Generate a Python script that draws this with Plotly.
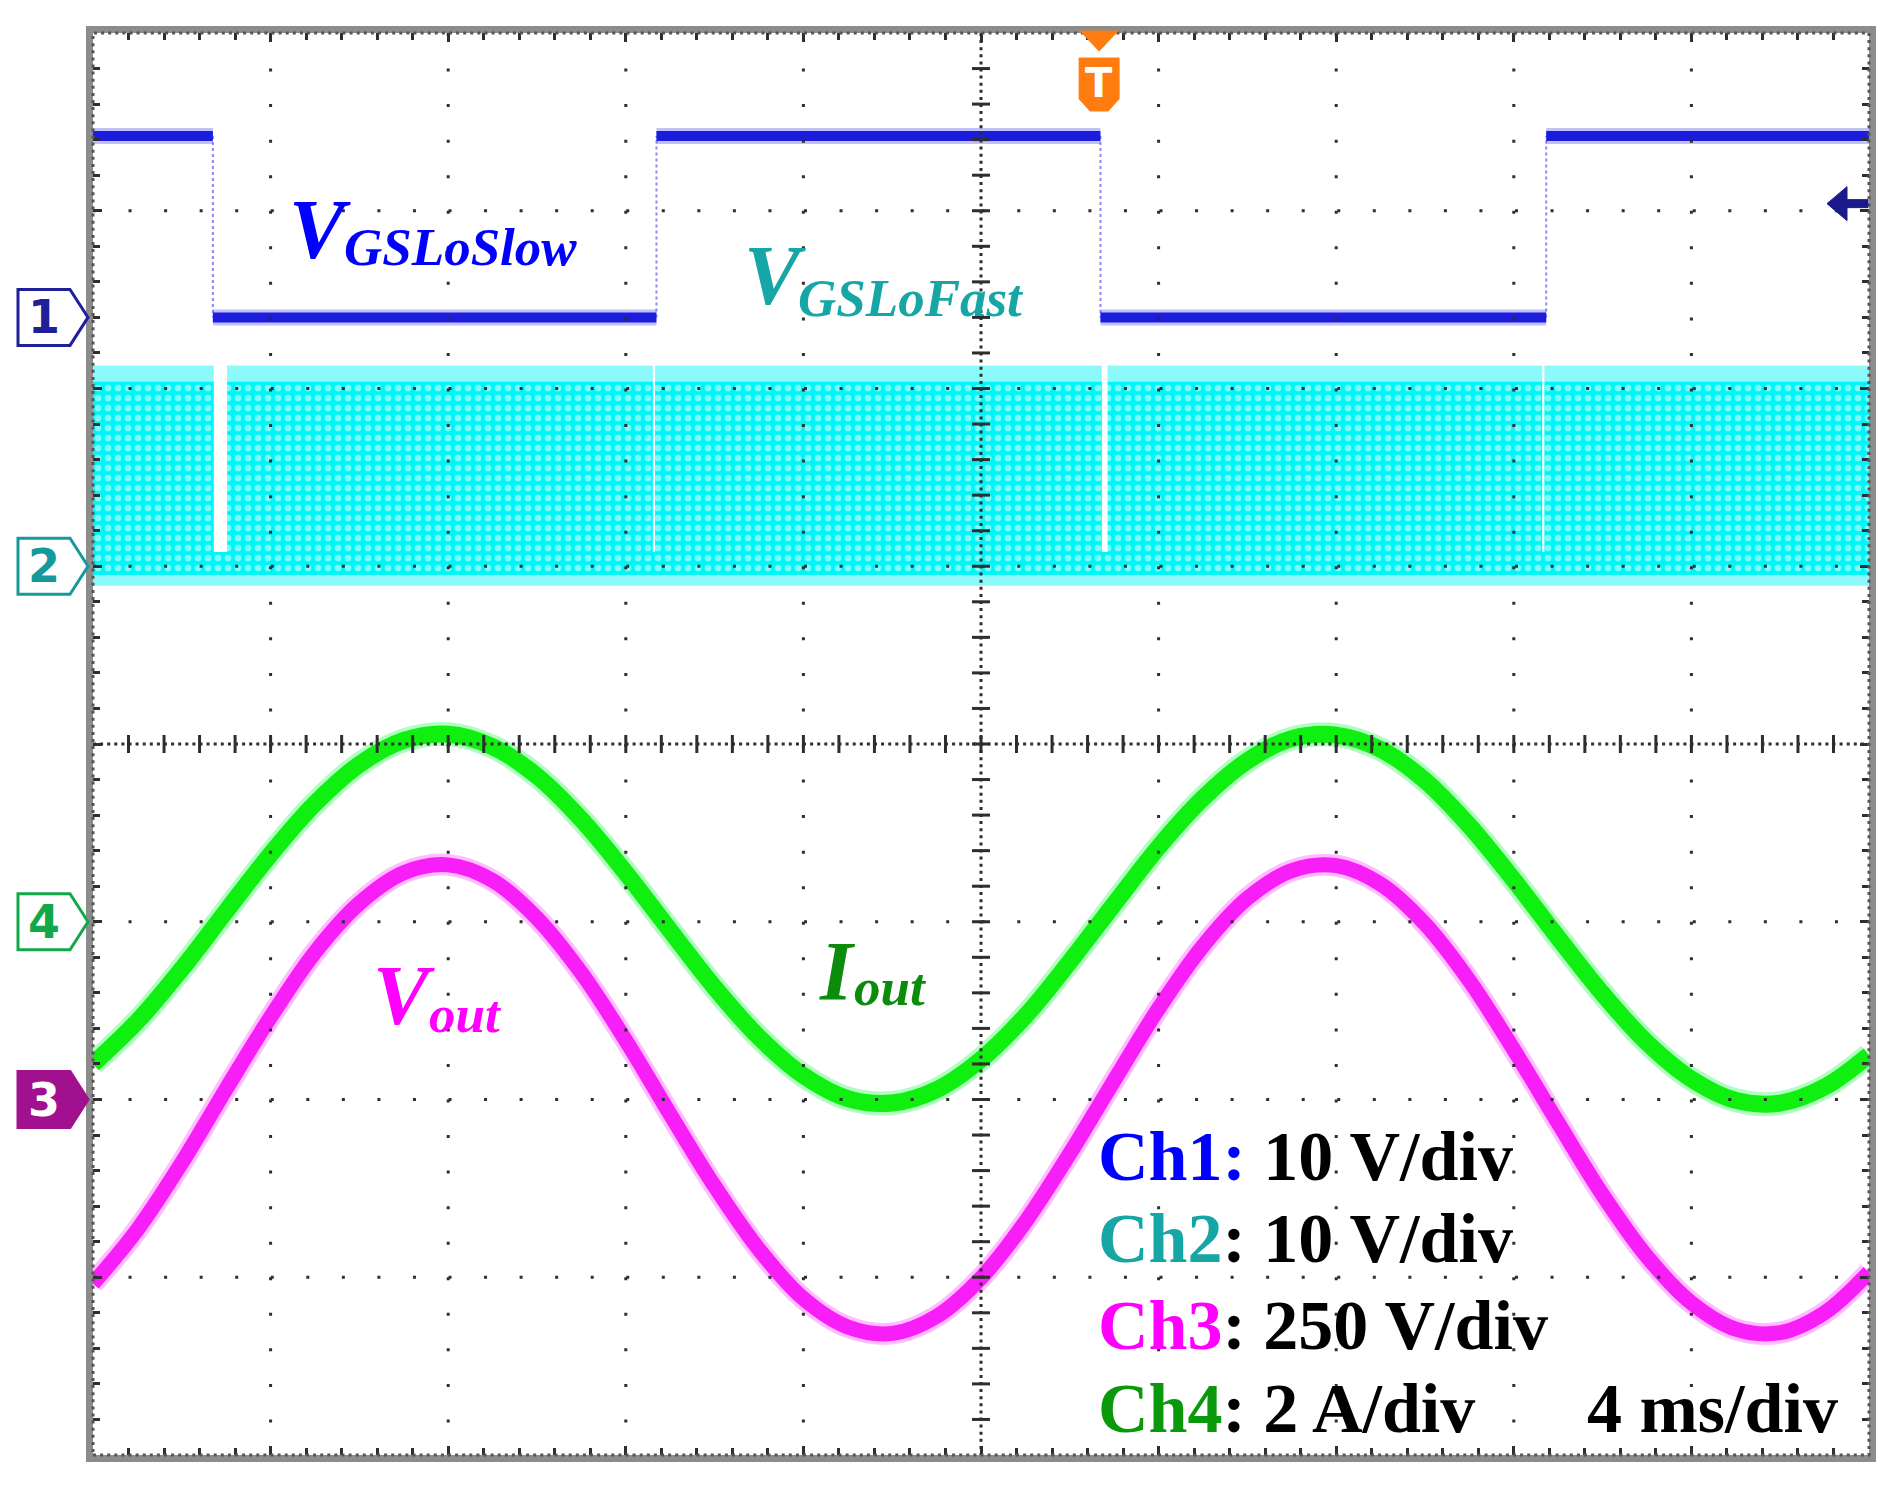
import plotly.graph_objects as go

# ---------------- data read from the oscilloscope capture ----------------
t_ms = list(range(-20, 21))  # sample times, 1 ms apart (4 ms/div, 10 div)

# Ch3 : Vout (V)
vout_V = [-259, -183, -89, 15, 116, 207, 276, 319, 330, 308, 255, 178, 83, -21,
          -122, -211, -280, -320, -329, -305, -251, -172, -76, 27, 128, 216, 283,
          322, 329, 303, 247, 167, 70, -33, -134, -221, -286, -323, -328, -300, -243]

# Ch4 : Iout (A)
iout_A = [-1.60, -1.12, -0.53, 0.12, 0.76, 1.33, 1.77, 2.04, 2.11, 1.97, 1.64, 1.15,
          0.55, -0.10, -0.74, -1.30, -1.73, -1.99, -2.04, -1.89, -1.55, -1.06, -0.45,
          0.20, 0.84, 1.39, 1.81, 2.06, 2.10, 1.94, 1.59, 1.08, 0.47, -0.18, -0.81,
          -1.36, -1.77, -2.01, -2.04, -1.86, -1.50]

# Ch1 : VGSLoSlow (V) - square wave
ch1_edges_ms = [-17.30, -7.31, 2.69, 12.73]
ch1_levels_V = [10.2, 0.0, 10.2, 0.0, 10.2]

# Ch2 : VGSLoFast (V) - high-frequency PWM envelope
ch2_high_V = 10.4
ch2_low_V = -0.5
ch2_base_top_V = 0.8
ch2_gaps_ms = [(-17.28, -16.98), (-7.39, -7.34), (2.72, 2.85), (12.64, 12.69)]

trig_time_ms = 2.66
trig_level_V = 6.4

# channel vertical settings: units per div, ground position (div from screen centre)
ch_scale = {"ch1": 10, "ch2": 10, "ch3": 250, "ch4": 2}
ch_zero_div = {"ch1": 2.4, "ch2": 1.0, "ch3": -2.0, "ch4": -1.0}

legend_lines = [("Ch1:", "#0000ff", " 10 V/div"),
                ("Ch2", "#17a6a6", ": 10 V/div"),
                ("Ch3", "#ff00ff", ": 250 V/div"),
                ("Ch4", "#0a990a", ": 2 A/div")]
timebase_text = "4 ms/div"


def to_div(vals, ch):
    s, z = ch_scale[ch], ch_zero_div[ch]
    return [None if v is None else v / s + z for v in vals]


# ---------------- figure geometry (window pixels) ----------------
WIN_W, WIN_H = 1896, 1488
BODY = 8                      # default page margin of the html body
L, R, T, B = 93, 1869, 33, 1455
PW, PH = R - L, B - T


def px(X):
    return (X - L) / PW


def py(Y):
    return (B - Y) / PH


fig = go.Figure()

# ---- Ch2 cyan band ----
starts = [-20] + [g[1] for g in ch2_gaps_ms]
ends = [g[0] for g in ch2_gaps_ms] + [20]
fx, fy = [], []
for s, e in zip(starts, ends):
    fx += [s, e, e, s, s, None]
    fy += [ch2_high_V, ch2_high_V, ch2_high_V + 0.9, ch2_high_V + 0.9, ch2_high_V, None]
fx += [-20, 20, 20, -20, -20, None]
fy += [ch2_low_V - 0.6, ch2_low_V - 0.6, ch2_low_V, ch2_low_V, ch2_low_V - 0.6, None]
fig.add_trace(go.Scatter(x=fx, y=to_div(fy, "ch2"), fill="toself", mode="lines",
                         line=dict(width=0, color="#00ffff"),
                         fillcolor="rgba(0,245,245,0.45)",
                         hoverinfo="skip", showlegend=False))
bx, by = [], []
for s, e in zip(starts, ends):
    bx += [s, e, e, s, s, None]
    by += [ch2_low_V, ch2_low_V, ch2_high_V, ch2_high_V, ch2_low_V, None]
bx += [-20, 20, 20, -20, -20, None]
by += [ch2_low_V, ch2_low_V, ch2_base_top_V, ch2_base_top_V, ch2_low_V, None]
fig.add_trace(go.Scatter(x=bx, y=to_div(by, "ch2"), fill="toself", mode="lines",
                         line=dict(width=0, color="#00ffff"), fillcolor="#00f6f6",
                         fillpattern=dict(shape=".", bgcolor="#00f6f6", fgcolor="#f0ffff",
                                          size=10, solidity=0.35),
                         hoverinfo="skip", showlegend=False))

# ---- Ch1 blue square wave ----
bnds = [-20] + ch1_edges_ms + [20]
hx, hy = [], []
for i, lv in enumerate(ch1_levels_V):
    hx += [bnds[i], bnds[i + 1], None]
    hy += [lv, lv, None]
vx, vy = [], []
for i, e in enumerate(ch1_edges_ms):
    vx += [e, e, None]
    vy += [ch1_levels_V[i], ch1_levels_V[i + 1], None]
fig.add_trace(go.Scatter(x=vx, y=to_div(vy, "ch1"), mode="lines",
                         line=dict(width=2, color="#8a8af5", dash="dot"),
                         hoverinfo="skip", showlegend=False))
fig.add_trace(go.Scatter(x=hx, y=to_div(hy, "ch1"), mode="lines",
                         line=dict(width=16, color="rgba(50,50,235,0.3)"),
                         hoverinfo="skip", showlegend=False))
fig.add_trace(go.Scatter(x=hx, y=to_div(hy, "ch1"), mode="lines",
                         line=dict(width=10, color="#1c1cdc"),
                         hoverinfo="skip", showlegend=False))

# ---- Ch4 green Iout ----
fig.add_trace(go.Scatter(x=t_ms, y=to_div(iout_A, "ch4"), mode="lines",
                         line=dict(width=24, color="rgba(40,250,80,0.35)", shape="spline"),
                         hoverinfo="skip", showlegend=False))
fig.add_trace(go.Scatter(x=t_ms, y=to_div(iout_A, "ch4"), mode="lines",
                         line=dict(width=17, color="#10f010", shape="spline"),
                         hoverinfo="skip", showlegend=False))

# ---- Ch3 magenta Vout ----
fig.add_trace(go.Scatter(x=t_ms, y=to_div(vout_V, "ch3"), mode="lines",
                         line=dict(width=22, color="rgba(255,70,255,0.35)", shape="spline"),
                         hoverinfo="skip", showlegend=False))
fig.add_trace(go.Scatter(x=t_ms, y=to_div(vout_V, "ch3"), mode="lines",
                         line=dict(width=15, color="#f81ef8", shape="spline"),
                         hoverinfo="skip", showlegend=False))

gc = "#2e2e2e"
frame = "#8c8c8c"
dots = "3px,32.55px"
dense = "3px,4.1px"

axis_common = dict(showgrid=False, zeroline=False, showticklabels=False,
                   ticks="inside", ticklen=9, tickwidth=3, tickcolor=gc,
                   showline=True, linecolor=frame, linewidth=7, mirror="ticks",
                   fixedrange=True, layer="above traces")
fig.update_xaxes(range=[-20, 20], tick0=0, dtick=4,
                 minor=dict(dtick=0.8, ticks="inside", ticklen=7, tickwidth=3,
                            tickcolor=gc, showgrid=False), **axis_common)
fig.update_yaxes(range=[-4, 4], tick0=0, dtick=1,
                 minor=dict(dtick=0.2, ticks="inside", ticklen=7, tickwidth=3,
                            tickcolor=gc, showgrid=False), **axis_common)

shapes = []
annos = []

# graticule (drawn over the traces, as on the scope screen)
for k in range(-4, 5):
    if k != 0:
        shapes.append(dict(type="line", xref="x", yref="paper", x0=4 * k, x1=4 * k,
                           y0=1, y1=0, line=dict(color=gc, width=3, dash=dots),
                           layer="above"))
for k in range(-3, 4):
    if k != 0:
        shapes.append(dict(type="line", xref="paper", yref="y", x0=0, x1=1, y0=k, y1=k,
                           line=dict(color=gc, width=3, dash=dots), layer="above"))
shapes.append(dict(type="line", xref="x", yref="paper", x0=0, x1=0, y0=1, y1=0,
                   line=dict(color=gc, width=3, dash=dense), layer="above"))
shapes.append(dict(type="line", xref="paper", yref="y", x0=0, x1=1, y0=0, y1=0,
                   line=dict(color=gc, width=3, dash=dense), layer="above"))
for k in range(-24, 25):
    shapes.append(dict(type="line", xref="x", yref="y", ysizemode="pixel", yanchor=0,
                       x0=k * 0.8, x1=k * 0.8, y0=-9, y1=9,
                       line=dict(color=gc, width=3), layer="above"))
for k in range(-19, 20):
    shapes.append(dict(type="line", xref="x", yref="y", xsizemode="pixel", xanchor=0,
                       y0=k * 0.2, y1=k * 0.2, x0=-9, x1=9,
                       line=dict(color=gc, width=3), layer="above"))
# fine dotted rim just inside the frame
shapes.append(dict(type="rect", xref="paper", yref="paper", x0=0, x1=1, y0=0, y1=1,
                   line=dict(color="#555555", width=3, dash=dense), layer="above"))

# channel ground markers on the left
markers = [("1", "ch1", "#1f1f9a", "white", "#1f1f9a"),
           ("2", "ch2", "#149a9a", "white", "#149a9a"),
           ("4", "ch4", "#12a84a", "white", "#12a84a"),
           ("3", "ch3", "#a0108f", "#a0108f", "white")]
for num, ch, lc, fc, tc in markers:
    yz = to_div([0], ch)[0]
    shapes.append(dict(type="path", xref="paper", yref="y", xsizemode="pixel",
                       ysizemode="pixel", xanchor=0, yanchor=yz,
                       path="M -75,28 L -23,28 L -5,0 L -23,-28 L -75,-28 Z",
                       line=dict(color=lc, width=3), fillcolor=fc, layer="above"))
    annos.append(dict(x=0, y=yz, xref="paper", yref="y", xshift=-49, text=num,
                      showarrow=False, xanchor="center", yanchor="middle",
                      font=dict(family="DejaVu Sans", size=46, color=tc, weight="bold")))

# trigger position marker at top
shapes.append(dict(type="path", xref="x", yref="paper", xsizemode="pixel", ysizemode="pixel",
                   xanchor=trig_time_ms, yanchor=1, path="M -19,2 L 19,2 L 0,-18 Z",
                   line=dict(color="#ff7c10", width=1), fillcolor="#ff7c10", layer="above"))
shapes.append(dict(type="path", xref="x", yref="paper", xsizemode="pixel", ysizemode="pixel",
                   xanchor=trig_time_ms, yanchor=1,
                   path="M -20,-25 L 20,-25 L 20,-66 L 9,-78 L -9,-78 L -20,-66 Z",
                   line=dict(color="#ff7c10", width=1), fillcolor="#ff7c10", layer="above"))
annos.append(dict(x=trig_time_ms, y=1, xref="x", yref="paper", yshift=-50, text="T",
                  showarrow=False, xanchor="center", yanchor="middle",
                  font=dict(family="DejaVu Sans", size=40, color="white", weight="bold")))

# trigger level arrow on the right
yl = to_div([trig_level_V], "ch1")[0]
shapes.append(dict(type="path", xref="paper", yref="y", xsizemode="pixel", ysizemode="pixel",
                   xanchor=1, yanchor=yl,
                   path="M -42,0 L -22,17 L -22,4 L -1,4 L -1,-4 L -22,-4 L -22,-17 Z",
                   line=dict(color="#1a1a8c", width=1), fillcolor="#1a1a8c", layer="above"))

# waveform labels
serif = "Liberation Serif"


def label(main, sub, color, mx, my, sx, sy, msize=84, ssize=53):
    annos.append(dict(x=px(mx), y=py(my), xref="paper", yref="paper", text=main,
                      showarrow=False, xanchor="center", yanchor="middle",
                      font=dict(family=serif, size=msize, color=color, weight="bold",
                                style="italic")))
    annos.append(dict(x=px(sx), y=py(sy), xref="paper", yref="paper", text=sub,
                      showarrow=False, xanchor="left", yanchor="middle",
                      font=dict(family=serif, size=ssize, color=color, weight="bold",
                                style="italic")))


label("V", "GSLoSlow", "#0000ff", 320, 229, 342, 247)
label("V", "GSLoFast", "#17a6a6", 775, 275, 796, 298)
label("I", "out", "#0b8c0b", 837, 971, 852, 987)
label("V", "out", "#ff00ff", 404, 995, 427, 1014)

# legend block
leg_y = [1156, 1238, 1325, 1408]
for (name, col, rest), yy in zip(legend_lines, leg_y):
    annos.append(dict(x=px(1096), y=py(yy), xref="paper", yref="paper",
                      text=f'<span style="color:{col}">{name}</span>{rest}',
                      showarrow=False, xanchor="left", yanchor="middle",
                      font=dict(family=serif, size=70, color="black", weight="bold")))
annos.append(dict(x=px(1840), y=py(leg_y[-1]), xref="paper", yref="paper", text=timebase_text,
                  showarrow=False, xanchor="right", yanchor="middle",
                  font=dict(family=serif, size=70, color="black", weight="bold")))

fig.update_layout(width=WIN_W - BODY, height=WIN_H - BODY,
                  margin=dict(l=L - BODY, r=WIN_W - R, t=T - BODY, b=WIN_H - B),
                  paper_bgcolor="white", plot_bgcolor="white", showlegend=False,
                  shapes=shapes, annotations=annos)

fig.write_html("out.html")
